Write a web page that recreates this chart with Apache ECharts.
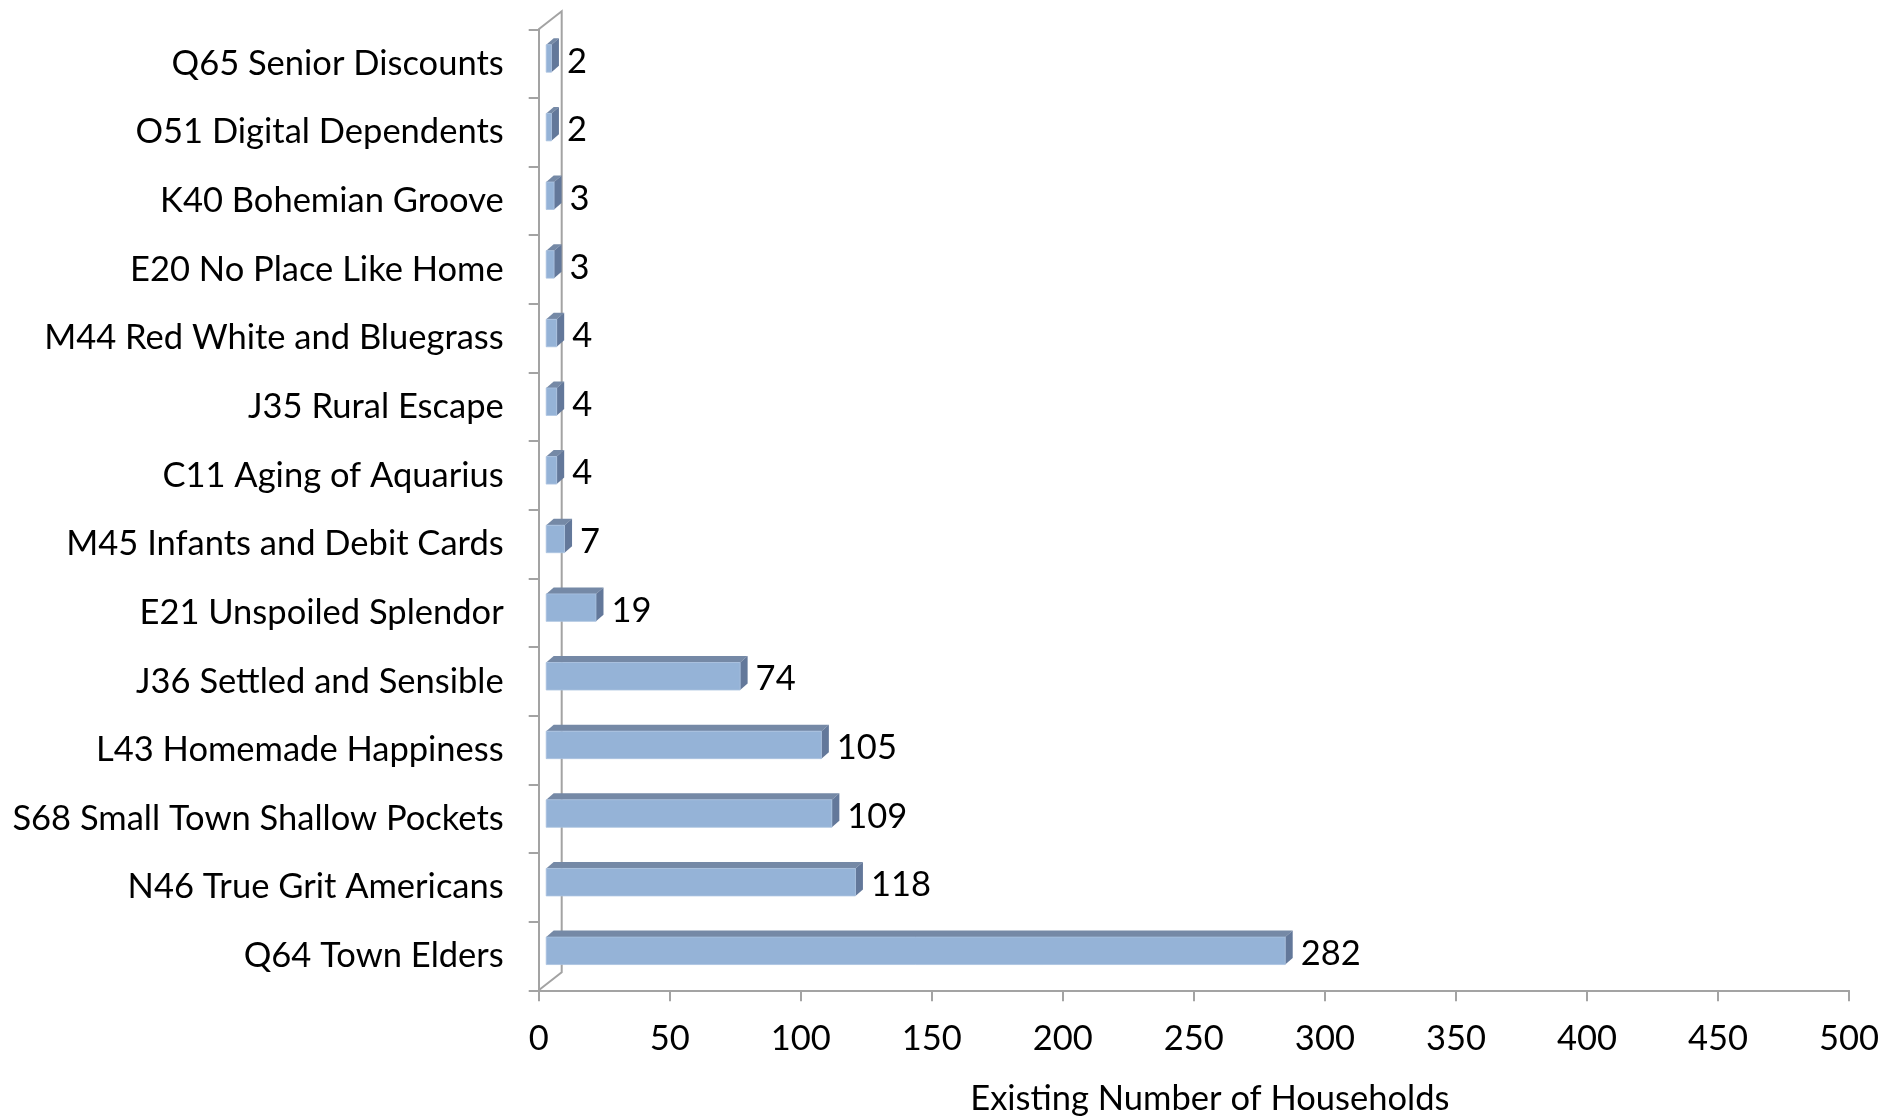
<!DOCTYPE html>
<html>
<head>
<meta charset="utf-8">
<script src="https://cdn.jsdelivr.net/npm/echarts@6/dist/echarts.min.js"></script>
<style>
html,body{margin:0;padding:0;background:#fff;}
#chart{width:1881px;height:1117px;}
</style>
</head>
<body>
<div id="chart"></div>
<script>
// Categories, top to bottom
var categories = [
  'Q65 Senior Discounts',
  'O51 Digital Dependents',
  'K40 Bohemian Groove',
  'E20 No Place Like Home',
  'M44 Red White and Bluegrass',
  'J35 Rural Escape',
  'C11 Aging of Aquarius',
  'M45 Infants and Debit Cards',
  'E21 Unspoiled Splendor',
  'J36 Settled and Sensible',
  'L43 Homemade Happiness',
  'S68 Small Town Shallow Pockets',
  'N46 True Grit Americans',
  'Q64 Town Elders'
];
var households = [2, 2, 3, 3, 4, 4, 4, 7, 19, 74, 105, 109, 118, 282];
var xTicks = [0, 50, 100, 150, 200, 250, 300, 350, 400, 450, 500];
var xAxisTitle = 'Existing Number of Households';

var FONT = 'Lato, "Open Sans", sans-serif';
var FS = 34.5;
var AXIS_COLOR = '#A3A3A3';
var FRONT = '#95B3D7';
var TOP = '#7589A6';
var SIDE = '#63789A';

var chart = echarts.init(document.getElementById('chart'), null, {renderer: 'canvas'});

function renderBar(params, api) {
  var v = api.value(0);
  var ci = api.value(1);
  var p0 = api.coord([0, ci]);
  var p1 = api.coord([v, ci]);
  var band = api.size([0, 1])[1];
  var h = band * 0.40;
  var fx = 7.5, fy = -band * 0.075;
  var dx = 7.5, dy = -6.5;
  var x0 = p0[0] + fx, x1 = p1[0] + fx;
  var yc = p0[1] + fy;
  var yt = yc - h / 2, yb = yc + h / 2;
  return {
    type: 'group',
    children: [
      {type: 'polygon', shape: {points: [[x0, yt], [x1, yt], [x1 + dx, yt + dy], [x0 + dx, yt + dy]]},
       style: {fill: TOP}},
      {type: 'polygon', shape: {points: [[x1, yt], [x1 + dx, yt + dy], [x1 + dx, yb + dy], [x1, yb]]},
       style: {fill: SIDE}},
      {type: 'rect', shape: {x: x0, y: yt, width: Math.max(x1 - x0, 0.5), height: h},
       style: {fill: FRONT, stroke: '#A9C2E0', lineWidth: 0.8}},
      {type: 'text', style: {text: String(v), x: x1 + dx + 8, y: yc + 3,
        verticalAlign: 'middle', align: 'left', fill: '#000', font: FS + 'px ' + FONT}}
    ]
  };
}

function renderWall(params, api) {
  var n = categories.length;
  var band = api.size([0, 1])[1];
  var top = api.coord([0, 0]);
  var bot = api.coord([0, n - 1]);
  var x = top[0];
  var yTop = top[1] - band / 2;
  var yBot = bot[1] + band / 2;
  var wx = 23, wy = -18;
  return {
    type: 'group',
    children: [
      {type: 'polyline', shape: {points: [[x, yTop], [x + wx, yTop + wy], [x + wx, yBot + wy], [x, yBot]]},
       style: {stroke: AXIS_COLOR, lineWidth: 2, fill: null}}
    ]
  };
}

chart.setOption({
  backgroundColor: '#ffffff',
  animation: false,
  grid: {left: 538.7, right: 32, top: 29.3, bottom: 126.7, containLabel: false, outerBoundsMode: 'none'},
  xAxis: {
    type: 'value',
    min: xTicks[0],
    max: xTicks[xTicks.length - 1],
    interval: xTicks[1] - xTicks[0],
    axisLine: {show: true, lineStyle: {color: AXIS_COLOR, width: 2}},
    axisTick: {show: true, length: 11, lineStyle: {color: AXIS_COLOR, width: 2}},
    splitLine: {show: false},
    axisLabel: {color: '#000', fontSize: FS, fontFamily: FONT, margin: 31},
    name: xAxisTitle,
    nameLocation: 'middle',
    nameGap: 91,
    nameTextStyle: {color: '#000', fontSize: FS, fontFamily: FONT, padding: [0, 0, 0, 32]}
  },
  yAxis: {
    type: 'category',
    data: categories,
    inverse: true,
    axisLine: {show: true, lineStyle: {color: AXIS_COLOR, width: 2}},
    axisTick: {show: true, length: 10, lineStyle: {color: AXIS_COLOR, width: 2}},
    axisLabel: {color: '#000', fontSize: FS, fontFamily: FONT, margin: 35, padding: [5, 0, 0, 0]}
  },
  series: [
    {
      type: 'custom',
      z: 1,
      renderItem: renderWall,
      data: [[0, 0]],
      encode: {x: 0, y: 1},
      silent: true
    },
    {
      type: 'custom',
      z: 2,
      renderItem: renderBar,
      data: households.map(function (v, i) { return [v, i]; }),
      encode: {x: 0, y: 1}
    }
  ]
});
</script>
</body>
</html>
